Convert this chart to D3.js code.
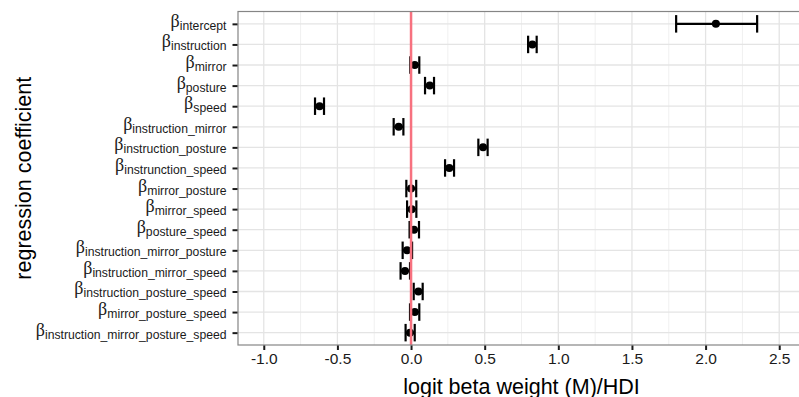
<!DOCTYPE html>
<html>
<head>
<meta charset="utf-8">
<script src="https://cdn.jsdelivr.net/npm/d3@7"></script>
<style>
  body { margin: 0; background: #fff; }
  svg { display: block; font-family: "Liberation Sans", Arial, sans-serif; }
</style>
</head>
<body>
<svg id="chart"></svg>
<script>
// coefficient subscripts, top to bottom (typo kept as in the original)
const coefficients = [
    "intercept", "instruction", "mirror", "posture", "speed",
    "instruction_mirror", "instruction_posture", "instrunction_speed",
    "mirror_posture", "mirror_speed", "posture_speed",
    "instruction_mirror_posture", "instruction_mirror_speed",
    "instruction_posture_speed", "mirror_posture_speed",
    "instruction_mirror_posture_speed"
]
const means = [2.07, 0.824, 0.025, 0.127, -0.621, -0.084, 0.489, 0.26,
    0.0, 0.004, 0.02, -0.027, -0.041, 0.05, 0.025, -0.007]
const hdiLow = [1.80, 0.795, -0.005, 0.095, -0.652, -0.118, 0.457, 0.231,
    -0.032, -0.027, -0.01, -0.057, -0.071, 0.018, -0.007, -0.037]
const hdiHigh = [2.35, 0.853, 0.056, 0.156, -0.591, -0.052, 0.52, 0.292,
    0.035, 0.036, 0.054, 0.007, -0.007, 0.079, 0.056, 0.025]
const xTicks = [-1.0, -0.5, 0.0, 0.5, 1.0, 1.5, 2.0, 2.5]
const xMinor = [-0.75, -0.25, 0.25, 0.75, 1.25, 1.75, 2.25]
const xLimits = [-1.0, 2.5]

const chart = { width: 799, height: 397 }
const panel = { left: 238, right: 805, top: 11.5, bottom: 345 }

const rows = coefficients.map((c, i) => ({
    name: c, m: means[i], lo: hdiLow[i], hi: hdiHigh[i]
}))

const svg = d3.select("#chart")
    .attr("width", chart.width)
    .attr("height", chart.height)

const pad = (xLimits[1] - xLimits[0]) * 0.05
const x = d3.scaleLinear()
    .domain([xLimits[0] - pad, xLimits[1] + pad])
    .range([panel.left, panel.right])

const y = d3.scalePoint()
    .domain(coefficients)
    .range([panel.top, panel.bottom])
    .padding(0.6)

// grid
const grid = svg.append("g")
grid.selectAll(".minor")
    .data(xMinor)
    .enter().append("line")
    .attr("x1", d => x(d)).attr("x2", d => x(d))
    .attr("y1", panel.top).attr("y2", panel.bottom)
    .attr("stroke", "#f0f0f0").attr("stroke-width", 1)
grid.selectAll(".majorx")
    .data(xTicks)
    .enter().append("line")
    .attr("x1", d => x(d)).attr("x2", d => x(d))
    .attr("y1", panel.top).attr("y2", panel.bottom)
    .attr("stroke", "#e4e4e4").attr("stroke-width", 1.3)
grid.selectAll(".majory")
    .data(coefficients)
    .enter().append("line")
    .attr("x1", panel.left).attr("x2", panel.right)
    .attr("y1", d => y(d)).attr("y2", d => y(d))
    .attr("stroke", "#e4e4e4").attr("stroke-width", 1.3)

// error bars + means
const capH = y.step() * 0.85
const bars = svg.append("g")
    .attr("stroke", "#000")
    .attr("stroke-width", 2.2)
bars.selectAll(".hdi")
    .data(rows)
    .enter().append("line")
    .attr("x1", d => x(d.lo)).attr("x2", d => x(d.hi))
    .attr("y1", d => y(d.name)).attr("y2", d => y(d.name))
bars.selectAll(".capLo")
    .data(rows)
    .enter().append("line")
    .attr("x1", d => x(d.lo)).attr("x2", d => x(d.lo))
    .attr("y1", d => y(d.name) - capH / 2).attr("y2", d => y(d.name) + capH / 2)
bars.selectAll(".capHi")
    .data(rows)
    .enter().append("line")
    .attr("x1", d => x(d.hi)).attr("x2", d => x(d.hi))
    .attr("y1", d => y(d.name) - capH / 2).attr("y2", d => y(d.name) + capH / 2)

svg.append("g")
    .selectAll("circle")
    .data(rows)
    .enter().append("circle")
    .attr("cx", d => x(d.m))
    .attr("cy", d => y(d.name))
    .attr("r", 4)
    .attr("fill", "#000")

// zero line
svg.append("line")
    .attr("x1", x(0)).attr("x2", x(0))
    .attr("y1", panel.top).attr("y2", panel.bottom)
    .attr("stroke", "#f7717f")
    .attr("stroke-width", 2.5)

// panel border
svg.append("rect")
    .attr("x", panel.left).attr("y", panel.top)
    .attr("width", panel.right - panel.left)
    .attr("height", panel.bottom - panel.top)
    .attr("fill", "none")
    .attr("stroke", "#858585")
    .attr("stroke-width", 1.2)

// x axis
const xAxis = d3.axisBottom(x)
    .tickValues(xTicks)
    .tickFormat(d => d.toFixed(1))
    .tickSize(4.5)
    .tickPadding(3)
const gx = svg.append("g")
    .attr("transform", "translate(0," + (panel.bottom + 0.5) + ")")
    .call(xAxis)
gx.select(".domain").remove()
gx.selectAll(".tick line").attr("stroke", "#1a1a1a").attr("stroke-width", 2)
gx.selectAll(".tick text")
    .attr("fill", "#1a1a1a")
    .style("font-size", "15.5px")
    .style("font-family", "'Liberation Sans', Arial, sans-serif")

// y axis
const yAxis = d3.axisLeft(y)
    .tickSize(5)
    .tickPadding(6)
const gy = svg.append("g")
    .attr("transform", "translate(" + (panel.left - 0.5) + ",0)")
    .call(yAxis)
gy.select(".domain").remove()
gy.selectAll(".tick line").attr("stroke", "#1a1a1a").attr("stroke-width", 2)
gy.selectAll(".tick text").each(function (d) {
    const t = d3.select(this)
    t.text(null)
        .attr("fill", "#1a1a1a")
        .attr("dy", null)
        .attr("y", 2.5)
        .attr("text-anchor", "end")
    t.append("tspan")
        .style("font-family", "'Liberation Serif', 'DejaVu Serif', serif")
        .style("font-size", "18px")
        .text("\u03B2")
    t.append("tspan")
        .attr("dy", 3)
        .style("font-family", "'Liberation Sans', Arial, sans-serif")
        .style("font-size", "12.2px")
        .text(d)
})

// titles
svg.append("text")
    .attr("x", (panel.left + panel.right) / 2)
    .attr("y", 393.5)
    .attr("text-anchor", "middle")
    .attr("fill", "#000")
    .style("font-size", "21.5px")
    .text("logit beta weight (M)/HDI")

svg.append("text")
    .attr("transform", "translate(31," + ((panel.top + panel.bottom) / 2) + ") rotate(-90)")
    .attr("text-anchor", "middle")
    .attr("fill", "#000")
    .style("font-size", "21.5px")
    .text("regression coefficient")
</script>
</body>
</html>
